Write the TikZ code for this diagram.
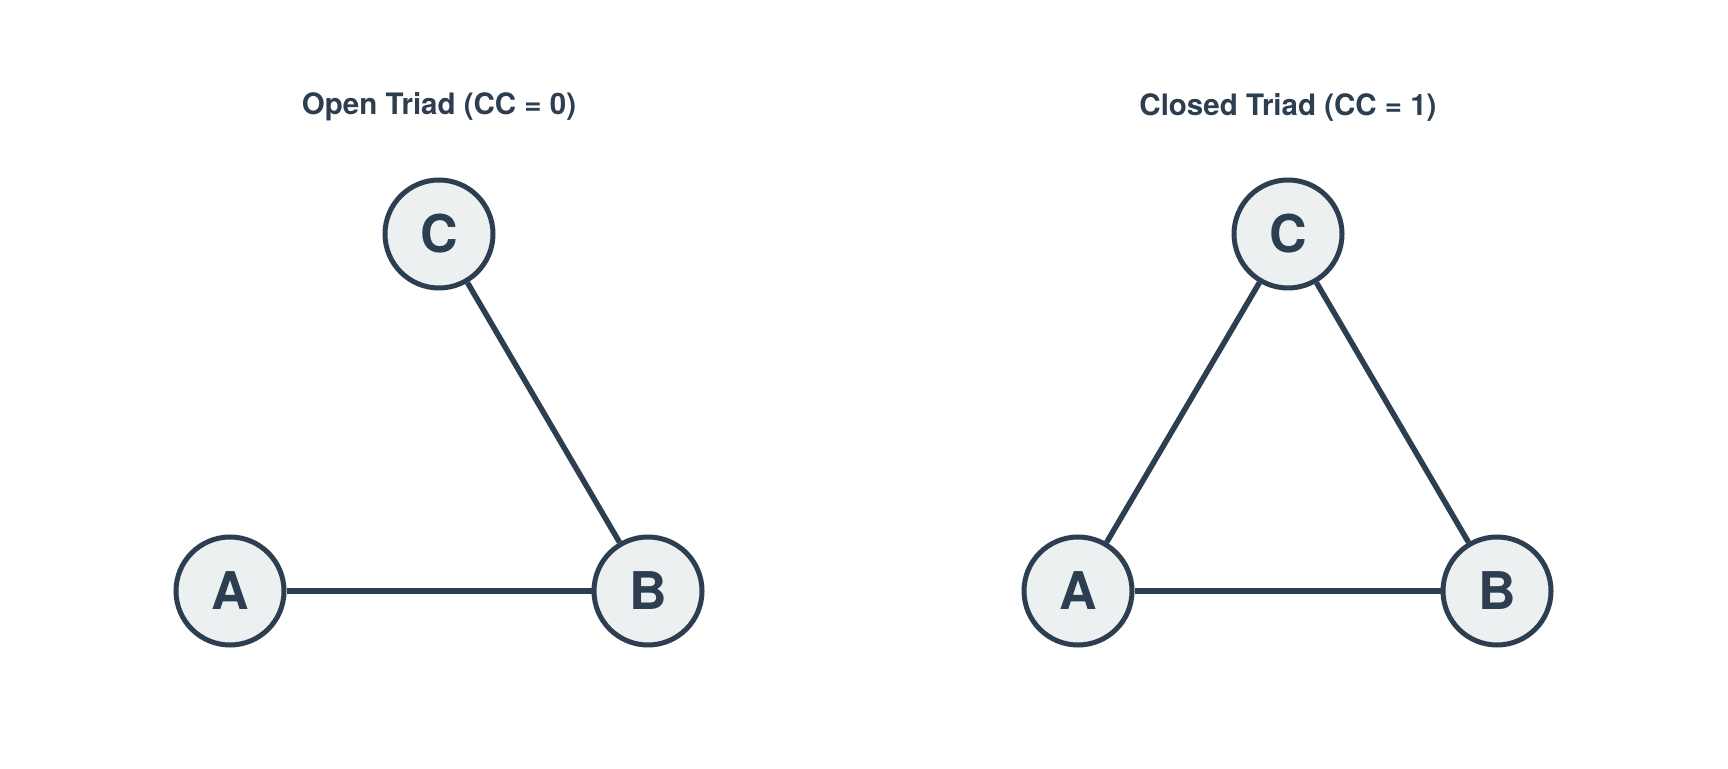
\documentclass[tikz,border=0pt]{standalone}
\usepackage{fontspec}
\setmainfont{TeX Gyre Heros}
\definecolor{ink}{HTML}{2C3E50}
\definecolor{nodefill}{HTML}{ECF0F1}
\begin{document}
\begin{tikzpicture}[x=1pt,y=1pt,
  vert/.style={circle,draw=ink,fill=nodefill,line width=5pt,minimum size=108pt,inner sep=0pt,font=\fontsize{52}{52}\selectfont\bfseries,text=ink},
  edge/.style={draw=ink,line width=5.5pt},
  ttl/.style={font=\fontsize{29.5}{29.5}\selectfont\bfseries,text=ink}]
\useasboundingbox (0,0) rectangle (1728,768);
\fill[white] (0,0) rectangle (1728,768);
% left
\node[ttl] (t1) at (439,661) {Open Triad (CC = 0)};
\node[vert] (C1) at (439,534) {C};
\node[vert] (A1) at (230,177) {A};
\node[vert] (B1) at (648,177) {B};
\draw[edge] (A1) -- (B1);
\draw[edge] (B1) -- (C1);
% right
\node[ttl] (t2) at (1288,661) {Closed Triad (CC = 1)};
\node[vert] (C2) at (1288,534) {C};
\node[vert] (A2) at (1078,177) {A};
\node[vert] (B2) at (1497,177) {B};
\draw[edge] (A2) -- (B2);
\draw[edge] (B2) -- (C2);
\draw[edge] (A2) -- (C2);
\end{tikzpicture}
\end{document}
